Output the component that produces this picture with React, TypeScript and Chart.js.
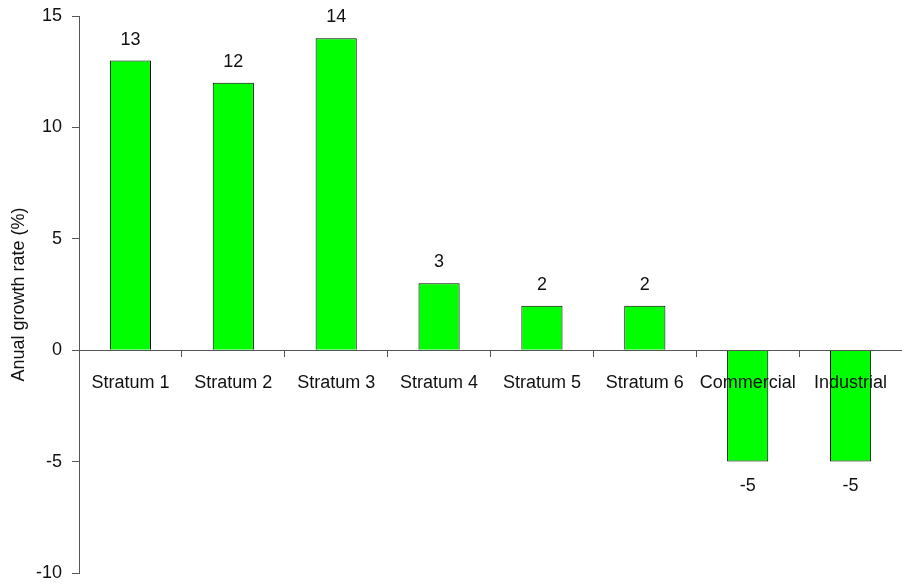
import { useEffect, useRef } from "react";
import { Chart, registerables } from "chart.js";

Chart.register(...registerables);

const categories = [
  "Stratum 1",
  "Stratum 2",
  "Stratum 3",
  "Stratum 4",
  "Stratum 5",
  "Stratum 6",
  "Commercial",
  "Industrial",
];
const growthRates = [13, 12, 14, 3, 2, 2, -5, -5];
const yMin = -10;
const yMax = 15;
const yStep = 5;
const yTitle = "Anual growth rate (%)";

const FONT = "'Liberation Sans', Arial, sans-serif";
const FONT_SIZE = 18;
const AXIS_COLOR = "#555";
const TEXT_COLOR = "#111";

const valueLabels = {
  id: "valueLabels",
  afterDatasetsDraw(chart: any) {
    const ctx = chart.ctx;
    const meta = chart.getDatasetMeta(0);
    ctx.save();
    ctx.font = `${FONT_SIZE}px ${FONT}`;
    ctx.fillStyle = TEXT_COLOR;
    ctx.textAlign = "center";
    ctx.textBaseline = "middle";
    meta.data.forEach((bar: any, i: number) => {
      const v = growthRates[i];
      const y = v >= 0 ? bar.y - 21 : bar.y + 24;
      ctx.fillText(String(v), bar.x, y);
    });
    ctx.restore();
  },
};

export default function App() {
  const ref = useRef<HTMLCanvasElement | null>(null);

  useEffect(() => {
    document.body.style.margin = "0";
    if (!ref.current) return;
    const chart = new Chart(ref.current, {
      type: "bar",
      data: {
        labels: categories,
        datasets: [
          {
            data: growthRates,
            backgroundColor: "#00ff00",
            borderColor: "#000",
            borderWidth: 1,
            barPercentage: 0.4,
            categoryPercentage: 1,
          },
        ],
      },
      options: {
        animation: false,
        responsive: false,
        maintainAspectRatio: false,
        layout: { padding: { top: 16, bottom: 12, left: 0, right: -3 } },
        plugins: {
          legend: { display: false },
          tooltip: { enabled: false },
        },
        scales: {
          x: {
            position: { y: 0 } as any,
            afterFit(scale: any) {
              scale.paddingLeft = 0;
              scale.paddingRight = 0;
            },
            grid: {
              offset: true,
              drawOnChartArea: false,
              drawTicks: true,
              tickLength: 6,
              color: AXIS_COLOR,
              z: 1,
            },
            border: { display: true, color: AXIS_COLOR, width: 1, z: 1 },
            ticks: {
              autoSkip: false,
              maxRotation: 0,
              padding: 16,
              color: TEXT_COLOR,
              font: { family: FONT, size: FONT_SIZE },
              z: 1,
            },
          },
          y: {
            min: yMin,
            max: yMax,
            afterFit(scale: any) {
              scale.width = 79;
              scale.paddingTop = 0;
              scale.paddingBottom = 0;
            },
            grid: {
              drawOnChartArea: false,
              drawTicks: true,
              tickLength: 7,
              color: AXIS_COLOR,
            },
            border: { display: true, color: AXIS_COLOR, width: 1 },
            ticks: {
              stepSize: yStep,
              padding: 10,
              color: TEXT_COLOR,
              font: { family: FONT, size: FONT_SIZE },
            },
            title: {
              display: true,
              text: yTitle,
              color: TEXT_COLOR,
              padding: { top: 8, bottom: 0 },
              font: { family: FONT, size: FONT_SIZE },
            },
          },
        },
      },
      plugins: [valueLabels],
    });
    return () => chart.destroy();
  }, []);

  return (
    <div style={{ width: 902, height: 585, position: "relative" }}>
      <canvas ref={ref} width={902} height={585} style={{ display: "block" }} />
    </div>
  );
}
